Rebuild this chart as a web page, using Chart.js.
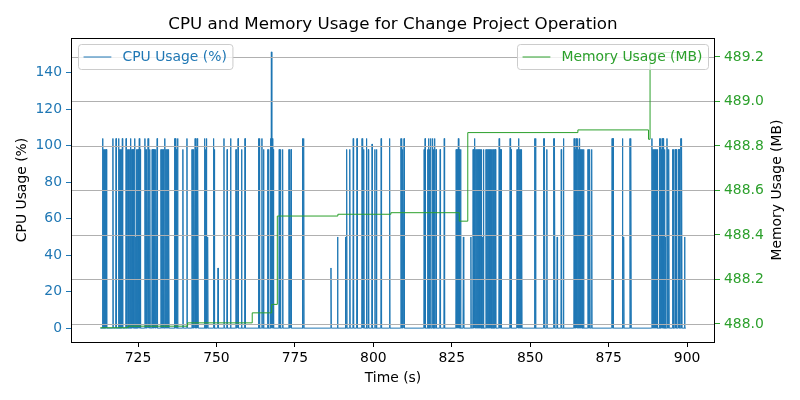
<!DOCTYPE html>
<html>
<head>
<meta charset="utf-8">
<script src="https://cdn.jsdelivr.net/npm/chart.js@4.4.0/dist/chart.umd.min.js"></script>
<style>
html, body { margin: 0; padding: 0; background: #fff; }
canvas { display: block; }
</style>
</head>
<body>
<canvas id="myChart" width="800" height="400"></canvas>
<script>
// CPU readings that are not zero: time (s) and value (%)
const cpuSpikeTimes = [
    713.7, 714.0, 714.3, 714.6, 714.9, 717.0, 718.0, 718.8, 719.1, 719.4, 719.7, 720.0,
    721.2, 721.7, 722.0, 722.3, 722.6, 722.9, 723.2, 723.5, 723.9, 724.2, 724.5, 724.8, 725.1, 725.4, 725.7,
    727.2, 727.5, 727.8, 728.2, 728.5, 728.8, 729.5, 729.8, 730.1, 730.4, 730.7, 731.1,
    732.3, 732.6, 732.9, 733.2, 733.6, 733.9, 734.2, 734.5, 734.8,
    736.6, 736.9, 737.2, 737.6, 739.3, 740.6, 742.2, 742.5, 742.8, 743.2, 743.5, 743.8, 744.1,
    746.2, 746.5, 746.8, 747.2, 749.1, 749.4, 750.5,
    752.4, 753.4, 754.5, 756.2, 756.5, 756.9, 758.0, 759.1, 763.4, 763.7, 764.5, 765.0,
    766.3, 766.6, 767.2, 767.5, 767.8, 768.1, 770.0, 770.4, 771.1, 773.1, 773.4, 773.8,
    777.4, 777.8, 786.5, 788.6, 791.1, 791.5, 792.5, 793.6, 794.8, 796.4, 796.7, 797.0,
    797.8, 798.4, 799.6, 800.5, 801.0, 802.5, 805.2,
    808.8, 809.1, 809.4, 809.8, 816.2, 816.5, 817.3, 817.6, 817.9, 818.3, 818.9, 819.2,
    819.5, 820.0, 821.3, 822.6, 826.4, 826.7, 827.1, 827.4, 827.8, 828.7,
    831.1, 831.8, 832.1, 832.4, 832.7, 833.0, 833.3, 833.6, 833.9, 834.2, 834.5, 834.8,
    835.1, 835.9, 836.2, 836.5, 836.8, 837.1, 837.4, 837.7, 838.0, 838.3, 838.6, 838.9,
    840.1, 840.4, 840.7, 843.6, 843.9, 845.8, 846.1, 846.4, 846.7, 847.0, 847.3,
    851.4, 851.7, 854.3, 854.6, 855.3, 857.5, 857.8, 858.6, 859.9, 860.6,
    864.0, 864.3, 864.6, 864.9, 865.2, 865.5, 865.8, 866.1, 866.4, 866.7, 867.0,
    868.4, 868.7, 869.0, 869.6, 876.1, 876.4, 879.4, 879.8, 881.8, 882.1,
    888.8, 889.1, 889.4, 889.7, 890.0, 890.3, 890.6, 891.2, 891.5, 891.8, 892.1, 892.4, 892.8,
    893.1, 893.6, 893.9, 894.2, 895.4, 895.7, 896.2, 896.5, 897.2, 897.5, 898.0, 898.3, 899.2
];
const cpuSpikeValues = [
    104, 98, 98, 98, 98, 104, 104, 104, 98, 98, 98, 104,
    104, 98, 98, 98, 104, 98, 98, 98, 104, 50, 98, 98, 98, 104, 98,
    104, 98, 98, 104, 98, 98, 98, 98, 98, 98, 98, 104,
    98, 98, 98, 98, 104, 98, 98, 98, 98,
    104, 104, 98, 104, 98, 104, 98, 98, 98, 104, 98, 104, 98,
    104, 98, 104, 50, 104, 98, 33,
    104, 98, 104, 98, 98, 104, 98, 104, 104, 104, 104, 98,
    98, 98, 104, 151.5, 104, 98, 98, 98, 98, 98, 98, 98,
    104, 104, 33, 50, 50, 98, 98, 104, 104, 104, 104, 98,
    104, 98, 101, 98, 98, 104, 104,
    104, 104, 98, 104, 98, 104, 98, 104, 98, 104, 104, 98,
    104, 98, 98, 104, 98, 98, 104, 98, 98, 50,
    50, 98, 98, 104, 98, 98, 98, 98, 98, 98, 98, 50,
    98, 98, 98, 98, 98, 98, 98, 98, 98, 98, 98, 98,
    104, 98, 98, 104, 98, 98, 98, 104, 98, 98, 98,
    104, 104, 104, 104, 98, 104, 104, 50, 98, 104,
    104, 98, 104, 98, 104, 98, 104, 98, 98, 98, 98,
    98, 98, 98, 98, 104, 104, 104, 50, 104, 104,
    104, 98, 98, 98, 98, 98, 98, 104, 104, 98, 104, 104, 98,
    50, 104, 98, 98, 98, 98, 98, 98, 98, 98, 104, 104, 50
];
const cpuStart = 713.0;
const cpuEnd = 899.6;

// memory level from each time on (MB)
const memTimes  = [713.0, 721.8, 740.8, 761.4, 767.6, 769.4, 788.7, 805.6, 827.4, 830.1, 865.2, 887.7, 888.2, 899.6];
const memValues = [487.983, 487.99, 488.005, 488.05, 488.088, 488.485, 488.493, 488.50, 488.462, 488.86, 488.872, 488.83, 489.22, 489.22];

const xTicks = [725, 750, 775, 800, 825, 850, 875, 900];
const cpuTicks = [0, 20, 40, 60, 80, 100, 120, 140];
const memTicks = [488.0, 488.2, 488.4, 488.6, 488.8, 489.0, 489.2];

const BLUE = '#1f77b4';
const GREEN = '#2ca02c';
const FONT = "'DejaVu Sans', sans-serif";
const FS = 13.9;

// each reading sits between zero readings
const cpuPoints = [{x: cpuStart, y: 0}];
cpuSpikeTimes.forEach(function (t, i) {
    cpuPoints.push({x: t - 0.12, y: 0});
    cpuPoints.push({x: t, y: cpuSpikeValues[i]});
    cpuPoints.push({x: t + 0.12, y: 0});
});
cpuPoints.push({x: cpuEnd, y: 0});

const memPoints = memTimes.map(function (t, i) { return {x: t, y: memValues[i]}; });

function boxPath(ctx, x, y, w, h, r) {
    ctx.beginPath();
    ctx.moveTo(x + r, y);
    ctx.arcTo(x + w, y, x + w, y + h, r);
    ctx.arcTo(x + w, y + h, x, y + h, r);
    ctx.arcTo(x, y + h, x, y, r);
    ctx.arcTo(x, y, x + w, y, r);
    ctx.closePath();
}

function drawLegend(ctx, edgeX, top, color, label, fromRight) {
    ctx.save();
    ctx.font = FS + 'px ' + FONT;
    const pad = 0.4 * FS, handle = 2 * FS, gap = 0.8 * FS;
    const w = pad + handle + gap + ctx.measureText(label).width + pad;
    const h = 25;
    const x = fromRight ? edgeX - w : edgeX;
    boxPath(ctx, x + 0.5, top + 0.5, w, h, 3);
    ctx.fillStyle = 'rgba(255,255,255,0.8)';
    ctx.fill();
    ctx.strokeStyle = '#cccccc';
    ctx.lineWidth = 1;
    ctx.stroke();
    const cy = top + h / 2 + 0.5;
    ctx.beginPath();
    ctx.moveTo(x + pad, cy);
    ctx.lineTo(x + pad + handle, cy);
    ctx.strokeStyle = color;
    ctx.lineWidth = 1;
    ctx.stroke();
    ctx.fillStyle = color;
    ctx.textAlign = 'left';
    ctx.textBaseline = 'middle';
    ctx.fillText(label, x + pad + handle + gap, cy);
    ctx.restore();
}

const decor = {
    id: 'decor',
    afterDatasetDraw: function (chart, args) {
        if (args.index !== 1) return;
        const ctx = chart.ctx, area = chart.chartArea, y2 = chart.scales.y2;
        // memory axis grid lies over the CPU line
        ctx.save();
        ctx.strokeStyle = '#b0b0b0';
        ctx.lineWidth = 1;
        memTicks.forEach(function (v) {
            const py = Math.round(y2.getPixelForValue(v)) + 0.5;
            ctx.beginPath();
            ctx.moveTo(area.left, py);
            ctx.lineTo(area.right, py);
            ctx.stroke();
        });
        ctx.restore();
        drawLegend(ctx, area.left + 7, area.top + 6, BLUE, 'CPU Usage (%)', false);
    },
    afterDatasetsDraw: function (chart) {
        const area = chart.chartArea;
        drawLegend(chart.ctx, area.right - 7, area.top + 6, GREEN, 'Memory Usage (MB)', true);
    },
    afterDraw: function (chart) {
        const ctx = chart.ctx, area = chart.chartArea;
        ctx.save();
        ctx.strokeStyle = '#000';
        ctx.lineWidth = 1;
        ctx.strokeRect(area.left + 0.5, area.top + 0.5, area.right - area.left - 1, area.bottom - area.top);
        ctx.fillStyle = '#000';
        ctx.textAlign = 'center';
        ctx.textBaseline = 'alphabetic';
        ctx.font = '16.7px ' + FONT;
        const cx = (area.left + area.right) / 2;
        const cy = (area.top + area.bottom) / 2;
        ctx.fillText('CPU and Memory Usage for Change Project Operation', cx, 29);
        ctx.font = FS + 'px ' + FONT;
        ctx.textBaseline = 'middle';
        ctx.fillText('Time (s)', cx, 378);
        ctx.save();
        ctx.translate(22, cy);
        ctx.rotate(-Math.PI / 2);
        ctx.fillText('CPU Usage (%)', 0, 0);
        ctx.restore();
        ctx.save();
        ctx.translate(777, cy);
        ctx.rotate(-Math.PI / 2);
        ctx.fillText('Memory Usage (MB)', 0, 0);
        ctx.restore();
        ctx.restore();
    }
};

function fixTicks(list) {
    return function (scale) {
        scale.ticks = list.map(function (v) { return {value: v}; });
    };
}

const ctx = document.getElementById('myChart');
new Chart(ctx, {
    type: 'line',
    data: {
        datasets: [{
            label: 'Memory Usage (MB)',
            data: memPoints,
            yAxisID: 'y2',
            borderColor: GREEN,
            borderWidth: 1,
            pointRadius: 0,
            stepped: 'before',
            order: 0
        }, {
            label: 'CPU Usage (%)',
            data: cpuPoints,
            yAxisID: 'y',
            borderColor: BLUE,
            borderWidth: 1,
            pointRadius: 0,
            tension: 0,
            order: 1
        }]
    },
    options: {
        responsive: false,
        animation: false,
        devicePixelRatio: 1,
        layout: { padding: { top: 38, left: 0, right: 0, bottom: 0 } },
        plugins: {
            legend: { display: false },
            tooltip: { enabled: false }
        },
        scales: {
            x: {
                type: 'linear',
                min: 703.64,
                max: 908.9,
                afterBuildTicks: fixTicks(xTicks),
                afterFit: function (scale) { scale.height = 58; },
                border: { display: false },
                grid: { drawOnChartArea: false, tickLength: 5, tickColor: '#000' },
                ticks: { color: '#000', padding: 3, font: { family: FONT, size: FS }, maxRotation: 0 }
            },
            y: {
                type: 'linear',
                position: 'left',
                min: -7.6,
                max: 159.1,
                afterBuildTicks: fixTicks(cpuTicks),
                afterFit: function (scale) { scale.width = 71; },
                border: { display: false },
                grid: { drawOnChartArea: false, tickLength: 5, tickColor: BLUE },
                ticks: { color: BLUE, padding: 4, font: { family: FONT, size: FS } }
            },
            y2: {
                type: 'linear',
                position: 'right',
                min: 487.919,
                max: 489.285,
                afterBuildTicks: fixTicks(memTicks),
                afterFit: function (scale) { scale.width = 85; },
                border: { display: false },
                grid: { drawOnChartArea: false, tickLength: 5, tickColor: GREEN },
                ticks: {
                    color: GREEN,
                    padding: 4,
                    font: { family: FONT, size: FS },
                    callback: function (v) { return v.toFixed(1); }
                }
            }
        }
    },
    plugins: [decor]
});
</script>
</body>
</html>
